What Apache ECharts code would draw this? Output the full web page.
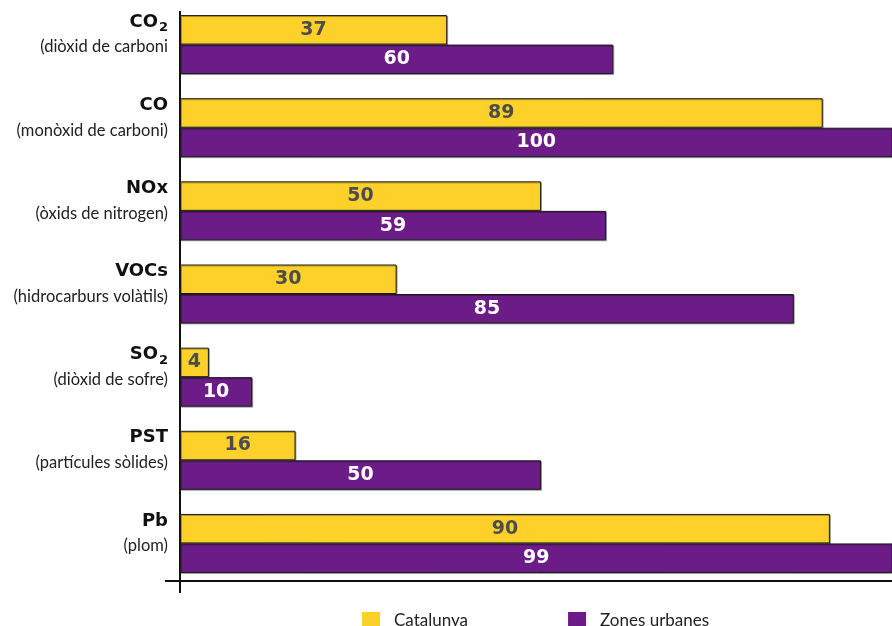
<!DOCTYPE html>
<html>
<head>
<meta charset="utf-8">
<script src="https://cdn.jsdelivr.net/npm/echarts@6/dist/echarts.min.js"></script>
<style>
  html, body { margin: 0; padding: 0; background: #ffffff; }
  #chart { width: 892px; height: 626px; }
</style>
</head>
<body>
<div id="chart"></div>
<script>
// Pollutant names (main part + subscript) and their descriptions
const pollutants = ['CO', 'CO', 'NOx', 'VOCs', 'SO', 'PST', 'Pb'];
const subscripts = ['2', '', '', '', '2', '', ''];
const descriptions = [
  '(diòxid de carboni',
  '(monòxid de carboni)',
  '(òxids de nitrogen)',
  '(hidrocarburs volàtils)',
  '(diòxid de sofre)',
  '(partícules sòlides)',
  '(plom)'
];
const seriesNames = ['Catalunya', 'Zones urbanes'];
const catalunya = [37, 89, 50, 30, 4, 16, 90];
const zonesUrbanes = [60, 100, 59, 85, 10, 50, 99];

const YELLOW = '#fdd02a';
const PURPLE = '#6b1c87';
const FONT = 'Lato, "Open Sans", sans-serif';
const BOLD_FONT = '"DejaVu Sans", Lato, sans-serif';

const categories = pollutants.map((p, i) => i);

const chart = echarts.init(document.getElementById('chart'), null, { renderer: 'canvas' });

const barStyle = (color) => ({
  color: color,
  borderColor: '#1a1a1a',
  borderWidth: 1,
  shadowColor: 'rgba(0,0,0,0.3)',
  shadowOffsetX: 1,
  shadowOffsetY: 1,
  shadowBlur: 0
});

const barLabel = (color) => ({
  show: true,
  position: 'inside',
  fontFamily: BOLD_FONT,
  fontWeight: 'bold',
  fontSize: 19,
  color: color
});

chart.setOption({
  animation: false,
  textStyle: { fontFamily: FONT },
  grid: { left: 180, right: 0, top: 3, bottom: 41, containLabel: false },
  xAxis: {
    type: 'value',
    min: 0,
    max: 98.6,
    axisLine: { show: false },
    axisTick: { show: false },
    axisLabel: { show: false },
    splitLine: { show: false }
  },
  yAxis: {
    type: 'category',
    inverse: true,
    data: categories,
    axisLine: { show: false },
    axisTick: { show: false },
    axisLabel: {
      margin: 12,
      align: 'right',
      padding: [0, 0, 20, 0],
      formatter: (v) => {
        const i = Number(v);
        const sub = subscripts[i] ? '{s|' + subscripts[i] + '}' : '';
        return '{n|' + pollutants[i] + '}' + sub + '\n{d|' + descriptions[i] + '}';
      },
      rich: {
        n: { fontFamily: BOLD_FONT, fontWeight: 'bold', fontSize: 18, color: '#111', lineHeight: 25, align: 'right' },
        s: { fontFamily: BOLD_FONT, fontWeight: 'bold', fontSize: 13, color: '#111', lineHeight: 25, verticalAlign: 'bottom', padding: [0, 0, 0, 1] },
        d: { fontFamily: FONT, fontSize: 16.5, color: '#222', lineHeight: 25, align: 'right' }
      }
    }
  },
  legend: {
    left: 357,
    top: 607,
    itemWidth: 18,
    itemHeight: 18,
    itemGap: 100,
    icon: 'rect',
    itemStyle: { borderWidth: 0, shadowBlur: 0, shadowOffsetX: 0, shadowOffsetY: 0 },
    textStyle: { fontFamily: FONT, fontSize: 17, color: '#222', padding: [0, 0, 0, 9] },
    data: seriesNames
  },
  series: [
    {
      name: seriesNames[0],
      type: 'bar',
      data: catalunya,
      barWidth: 29.5,
      barGap: '0%',
      itemStyle: barStyle(YELLOW),
      label: barLabel('#4d4d4d')
    },
    {
      name: seriesNames[1],
      type: 'bar',
      data: zonesUrbanes,
      barWidth: 29.5,
      barGap: '0%',
      itemStyle: barStyle(PURPLE),
      label: barLabel('#ffffff')
    }
  ],
  graphic: [
    { type: 'line', shape: { x1: 180, y1: 11, x2: 180, y2: 593 }, style: { stroke: '#111', lineWidth: 2 } },
    { type: 'line', shape: { x1: 165, y1: 581, x2: 892, y2: 581 }, style: { stroke: '#111', lineWidth: 2 } }
  ]
});
</script>
</body>
</html>
